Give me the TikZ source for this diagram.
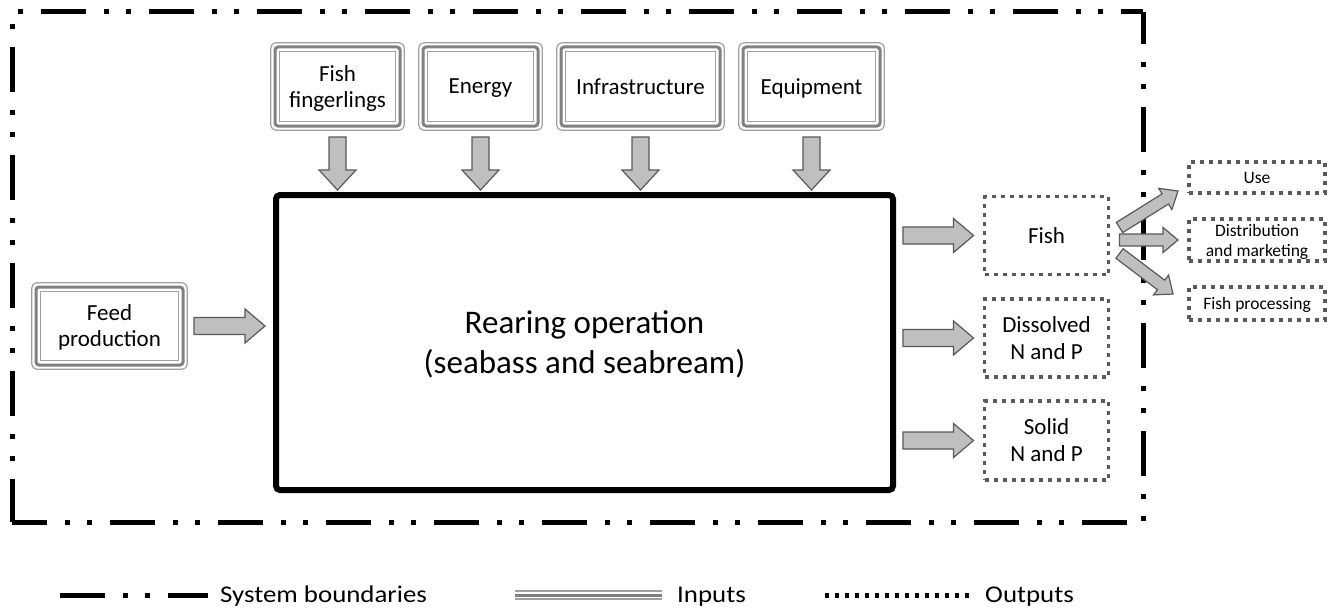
\documentclass[tikz,border=0pt]{standalone}
\usepackage{fontspec}
\setmainfont{Carlito}
\newfontfamily\legfont[FakeStretch=1.12]{Carlito}
\usetikzlibrary{calc}
\definecolor{arrfill}{HTML}{BFBFBF}
\definecolor{arrline}{HTML}{595959}
\definecolor{dotc}{HTML}{5A5A5A}
\definecolor{thinc}{HTML}{A0A0A0}
\definecolor{thickc}{HTML}{808080}
\tikzset{
  blockarrow/.style={fill=arrfill, draw=arrline, line width=1.2pt, line join=miter},
  inbox/.style={draw=none, inner sep=0pt, outer sep=0pt, align=center, text depth=0pt, font=\fontsize{23}{26}\selectfont},
  outbox/.style={draw=dotc, line width=3.5pt, dash pattern=on 4pt off 5pt, inner sep=0pt, outer sep=0pt, align=center, text depth=0pt, font=\fontsize{23}{27}\selectfont},
  smallbox/.style={outbox, font=\fontsize{17.5}{20}\selectfont},
  bnd/.style={line width=5pt, dash pattern=on 45pt off 18pt on 5pt off 17pt on 5pt off 18pt},
  legtext/.style={anchor=base west, inner sep=0pt, font=\legfont\fontsize{24}{28}\selectfont},
}
% #1 start, #2 tip, #3 shaft half width, #4 head half width, #5 head length
\newcommand\blockarr[5]{%
  \coordinate (bah) at ($(#2)!#5!(#1)$);
  \draw[blockarrow] ($(#1)!#3!90:(#2)$) -- ($(bah)!#3!90:(#2)$) -- ($(bah)!#4!90:(#2)$)
    -- (#2) -- ($(bah)!#4!-90:(#2)$) -- ($(bah)!#3!-90:(#2)$) -- ($(#1)!#3!-90:(#2)$) -- cycle;
}
\begin{document}
\begin{tikzpicture}[x=1pt,y=-1pt]
\useasboundingbox (0,0) rectangle (1337,607);

% system boundary
\coordinate (b1) at (12,12);
\coordinate (b2) at (12,522);
\coordinate (b3) at (1143,522);
\coordinate (b4) at (1143,12);
\draw[bnd, dash phase=73pt] (b1) -- (b2);
\draw[bnd, dash phase=10pt] (b2) -- (b3);
\draw[bnd, dash phase=62pt] (b3) -- (b4);
\draw[bnd, dash phase=79pt] (b1) -- (b4);

% main box
\node[draw, line width=6pt, rounded corners=4pt, outer sep=0pt, minimum width=617pt, minimum height=295pt,
  align=center, text depth=0pt, font=\fontsize{33}{40}\selectfont] (main) at (584.5,342.5)
  {Rearing operation\\(seabass and seabream)};

% input boxes
\node[inbox, minimum width=135pt, minimum height=89pt] (ff) at (337.5,86.5) {Fish\\fingerlings};
\node[inbox, minimum width=125pt, minimum height=89pt] (en) at (480.5,86.5) {Energy};
\node[inbox, minimum width=169pt, minimum height=89pt] (inf) at (640.5,86.5) {Infrastructure};
\node[inbox, minimum width=147pt, minimum height=89pt] (eq) at (811.5,86.5) {Equipment};
\node[inbox, minimum width=157pt, minimum height=88pt] (feed) at (109.5,326) {Feed\\production};
\foreach \n in {ff,en,inf,eq,feed}{
  \draw[thinc, line width=1.2pt, rounded corners=5pt] ($(\n.north west)+(0.8,0.8)$) rectangle ($(\n.south east)+(-0.8,-0.8)$);
  \draw[thickc, line width=3pt, rounded corners=3pt] ($(\n.north west)+(5,5)$) rectangle ($(\n.south east)+(-5,-5)$);
  \draw[thinc, line width=1.2pt] ($(\n.north west)+(9.3,9.3)$) rectangle ($(\n.south east)+(-9.3,-9.3)$);
}

% output boxes
\node[outbox, minimum width=124pt, minimum height=78pt] (fish) at (1046.5,235.5) {Fish};
\node[outbox, minimum width=124pt, minimum height=78pt] (diss) at (1046.5,338) {Dissolved\\N and P};
\node[outbox, minimum width=124pt, minimum height=79pt] (solid) at (1046.5,440.5) {Solid\\N and P};
\node[smallbox, minimum width=136pt, minimum height=31pt] (use) at (1257,177.5) {Use};
\node[smallbox, minimum width=136pt, minimum height=42pt] (dist) at (1257,240) {Distribution\\and marketing};
\node[smallbox, minimum width=136pt, minimum height=33pt] (proc) at (1257,303.5) {Fish processing};

% down arrows
\foreach \n in {ff,en,inf,eq}{
  \coordinate (\n-a) at ($(\n.south)+(0,6)$);
  \coordinate (\n-b) at ($(\n.south |- main.north)+(0,-5)$);
  \blockarr{\n-a}{\n-b}{8.5pt}{18.5pt}{20pt}
}
% feed arrow
\coordinate (fa) at ($(feed.east)+(6,0)$);
\coordinate (fb) at ($(main.west |- feed.east)+(-11,0)$);
\blockarr{fa}{fb}{8.5pt}{17pt}{20pt}
% output arrows
\foreach \n in {fish,diss,solid}{
  \coordinate (\n-a) at ($(main.east |- \n.west)+(10,0)$);
  \coordinate (\n-b) at ($(\n.west)+(-11,0)$);
  \blockarr{\n-a}{\n-b}{8.5pt}{17pt}{20pt}
}
% fan arrows
\coordinate (u-a) at ($(fish.east)+(11,-8)$);
\coordinate (u-b) at ($(use.south west)+(-11,-2)$);
\blockarr{u-a}{u-b}{6pt}{12.5pt}{15pt}
\coordinate (d-a) at ($(fish.east)+(11,4.5)$);
\coordinate (d-b) at ($(dist.west)+(-11,0)$);
\blockarr{d-a}{d-b}{6pt}{12.5pt}{15pt}
\coordinate (p-a) at ($(fish.east)+(11,18)$);
\coordinate (p-b) at ($(proc.north west)+(-16,7)$);
\blockarr{p-a}{p-b}{6pt}{12.5pt}{15pt}

% legend
\coordinate (l1a) at (60,595);
\coordinate (l1b) at (208,595);
\draw[bnd] (l1a) -- (l1b);
\node[legtext] (lt1) at (220,602) {System boundaries};
\coordinate (l2a) at (515,595);
\coordinate (l2b) at (662,595);
\draw[thinc, line width=1.2pt] ($(l2a)+(0,-4)$) -- ($(l2b)+(0,-4)$);
\draw[thickc, line width=3pt] (l2a) -- (l2b);
\draw[thinc, line width=1.2pt] ($(l2a)+(0,4)$) -- ($(l2b)+(0,4)$);
\node[legtext] (lt2) at (677,602) {Inputs};
\coordinate (l3a) at (825,595);
\coordinate (l3b) at (970,595);
\draw[line width=5pt, dash pattern=on 4pt off 6pt] (l3a) -- (l3b);
\node[legtext] (lt3) at (985,602) {Outputs};
\end{tikzpicture}
\end{document}
